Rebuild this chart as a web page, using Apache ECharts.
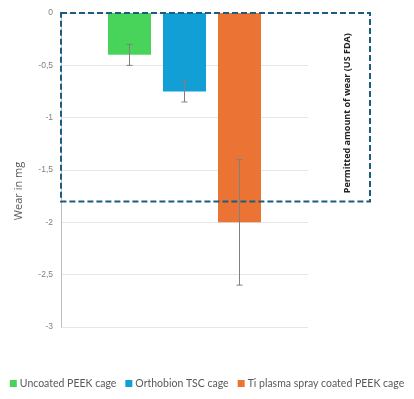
<!DOCTYPE html>
<html>
<head>
<meta charset="utf-8">
<script src="https://cdn.jsdelivr.net/npm/echarts@6/dist/echarts.min.js"></script>
<style>
html, body { margin: 0; padding: 0; background: #fff; }
#chart { width: 414px; height: 399px; }
</style>
</head>
<body>
<div id="chart"></div>
<script>
// data
var cages = ['Uncoated PEEK cage', 'Orthobion TSC cage', 'Ti plasma spray coated PEEK cage'];
var wear = [-0.4, -0.75, -2.0];
var errTop = [-0.3, -0.65, -1.4];
var errBottom = [-0.5, -0.85, -2.6];
var fdaLimit = -1.8;
var colors = ['#48d35b', '#119fd5', '#eb7334'];

var myChart = echarts.init(document.getElementById('chart'));

var barW = 43, barStep = 55;

var series = cages.map(function (name, i) {
	return {
		name: name,
		type: 'bar',
		data: [wear[i]],
		barWidth: barW,
		barGap: ((barStep - barW) / barW * 100) + '%',
		itemStyle: { color: colors[i] },
		animation: false
	};
});

// error bars
series.push({
	type: 'custom',
	data: cages.map(function (n, i) { return [0, errTop[i], errBottom[i], i]; }),
	renderItem: function (params, api) {
		var i = api.value(3);
		var p1 = api.coord([0, api.value(1)]);
		var p2 = api.coord([0, api.value(2)]);
		var x = p1[0] + (i - 1) * barStep;
		var cap = 3;
		var st = { stroke: '#808080', lineWidth: 1 };
		return {
			type: 'group',
			children: [
				{ type: 'line', shape: { x1: x, y1: p1[1], x2: x, y2: p2[1] }, style: st },
				{ type: 'line', shape: { x1: x - cap, y1: p1[1], x2: x + cap, y2: p1[1] }, style: st },
				{ type: 'line', shape: { x1: x - cap, y1: p2[1], x2: x + cap, y2: p2[1] }, style: st }
			]
		};
	},
	z: 5,
	silent: true,
	animation: false
});

var option = {
	animation: false,
	grid: { left: 61, right: 106, top: 13, bottom: 72 },
	legend: {
		data: cages,
		bottom: 10,
		left: 'center',
		padding: 0,
		icon: 'rect',
		itemWidth: 7,
		itemHeight: 7,
		itemGap: 9,
		textStyle: { fontSize: 10.5, color: '#595959', padding: [0, 0, 0, -2], fontFamily: 'Lato, "Open Sans", sans-serif' }
	},
	xAxis: {
		type: 'category',
		data: [''],
		axisLine: { show: false },
		axisTick: { show: false },
		axisLabel: { show: false }
	},
	yAxis: {
		type: 'value',
		min: -3,
		max: 0,
		interval: 0.5,
		name: 'Wear in mg',
		nameLocation: 'middle',
		nameGap: 37,
		nameTextStyle: { fontSize: 11, color: '#595959', padding: [0, 42, 0, 0], fontFamily: '"Open Sans", sans-serif' },
		axisLine: { show: true, lineStyle: { color: '#bfbfbf' } },
		axisTick: { show: false },
		axisLabel: {
			fontSize: 8.5,
			color: '#7f7f7f',
			margin: 8,
			formatter: function (v) { return String(v).replace('.', ','); }
		},
		splitLine: { lineStyle: { color: '#e6e6e6' } }
	},
	series: series
};

myChart.setOption(option);

// FDA permitted-wear box
var yTop = myChart.convertToPixel({ yAxisIndex: 0 }, 0);
var yLim = myChart.convertToPixel({ yAxisIndex: 0 }, fdaLimit);
myChart.setOption({
	graphic: [
		{
			type: 'rect',
			shape: { x: 61, y: yTop, width: 309, height: yLim - yTop },
			style: { fill: 'none', stroke: '#1d5c7e', lineWidth: 2, lineDash: [6, 3] },
			z: 10
		},
		{
			type: 'text',
			x: 347,
			y: (yTop + yLim) / 2 + 6,
			rotation: Math.PI / 2,
			style: {
				text: 'Permitted amount of wear (US FDA)',
				fontSize: 9,
				fontWeight: 'bold',
				fill: '#222',
				align: 'center',
				verticalAlign: 'middle',
				fontFamily: '"Open Sans", sans-serif'
			},
			z: 10
		}
	]
});

window.onresize = myChart.resize;
</script>
</body>
</html>
